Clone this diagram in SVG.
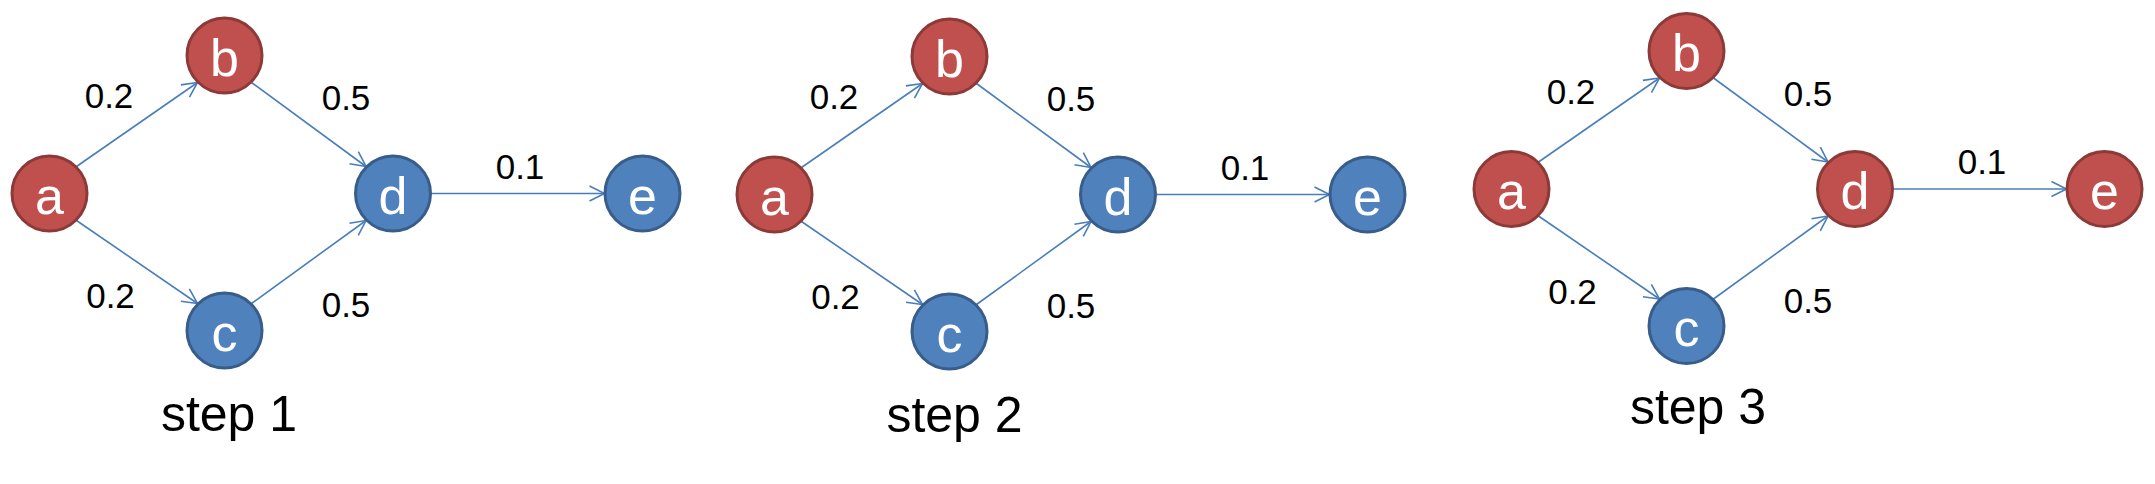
<svg xmlns="http://www.w3.org/2000/svg" width="2155" height="484" viewBox="0 0 2155 484">
<style>
  .red circle { fill: #C0504D; stroke: #8C3A38; stroke-width: 3; }
  .blue circle { fill: #4F81BD; stroke: #385D8A; stroke-width: 3; }
  .node text { font-family: "Liberation Sans", Arial, sans-serif; font-size: 52px; fill: #FFFFFF; text-anchor: middle; }
  .edge { stroke: #4A7EBB; stroke-width: 1.6; fill: none; marker-end: url(#arrow); }
  .lbl { font-family: "Liberation Sans", Arial, sans-serif; font-size: 35px; fill: #000000; text-anchor: middle; }
  .step { font-family: "Liberation Sans", Arial, sans-serif; font-size: 50px; fill: #000000; text-anchor: middle; }
</style>
<defs>
  <marker id="arrow" markerUnits="userSpaceOnUse" markerWidth="18" markerHeight="18" viewBox="0 0 18 18" refX="16" refY="9" orient="auto">
    <path d="M1,1.5 L16,9 L1,16.5" fill="none" stroke="#4A7EBB" stroke-width="1.6"/>
  </marker>
</defs>
<rect width="2155" height="484" fill="#FFFFFF"/>

<!-- Panel 1 -->
<g id="panel1">
  <g id="p1-connectors">
    <line class="edge" x1="76.5" y1="166.5" x2="197.5" y2="82.5"/>
    <line class="edge" x1="76.5" y1="220.5" x2="197.5" y2="303.5"/>
    <line class="edge" x1="251.5" y1="82.5" x2="366" y2="166.5"/>
    <line class="edge" x1="251.5" y1="303.5" x2="366" y2="220.5"/>
    <line class="edge" x1="431" y1="193.5" x2="604.5" y2="193.5"/>
  </g>
  <g id="p1-a" class="node red"><circle cx="49.5" cy="193.5" r="37.5"/><text x="49.5" y="213.5">a</text></g>
  <g id="p1-b" class="node red"><circle cx="224.5" cy="55.5" r="37.5"/><text x="224.5" y="75.5">b</text></g>
  <g id="p1-c" class="node blue"><circle cx="224.5" cy="330.5" r="37.5"/><text x="224.5" y="350.5">c</text></g>
  <g id="p1-d" class="node blue"><circle cx="393" cy="193.5" r="37.5"/><text x="393" y="213.5">d</text></g>
  <g id="p1-e" class="node blue"><circle cx="642.5" cy="193.5" r="37.5"/><text x="642.5" y="213.5">e</text></g>
  <g id="p1-labels">
    <text class="lbl" x="109" y="108">0.2</text>
    <text class="lbl" x="346" y="110">0.5</text>
    <text class="lbl" x="110.5" y="308">0.2</text>
    <text class="lbl" x="346" y="317">0.5</text>
    <text class="lbl" x="520" y="178.5">0.1</text>
    <text class="step" x="229" y="431">step 1</text>
  </g>
</g>

<!-- Panel 2 -->
<g id="panel2" transform="translate(725,1)">
  <g id="p2-connectors">
    <line class="edge" x1="76.5" y1="166.5" x2="197.5" y2="82.5"/>
    <line class="edge" x1="76.5" y1="220.5" x2="197.5" y2="303.5"/>
    <line class="edge" x1="251.5" y1="82.5" x2="366" y2="166.5"/>
    <line class="edge" x1="251.5" y1="303.5" x2="366" y2="220.5"/>
    <line class="edge" x1="431" y1="193.5" x2="604.5" y2="193.5"/>
  </g>
  <g id="p2-a" class="node red"><circle cx="49.5" cy="193.5" r="37.5"/><text x="49.5" y="213.5">a</text></g>
  <g id="p2-b" class="node red"><circle cx="224.5" cy="55.5" r="37.5"/><text x="224.5" y="75.5">b</text></g>
  <g id="p2-c" class="node blue"><circle cx="224.5" cy="330.5" r="37.5"/><text x="224.5" y="350.5">c</text></g>
  <g id="p2-d" class="node blue"><circle cx="393" cy="193.5" r="37.5"/><text x="393" y="213.5">d</text></g>
  <g id="p2-e" class="node blue"><circle cx="642.5" cy="193.5" r="37.5"/><text x="642.5" y="213.5">e</text></g>
  <g id="p2-labels">
    <text class="lbl" x="109" y="108">0.2</text>
    <text class="lbl" x="346" y="110">0.5</text>
    <text class="lbl" x="110.5" y="308">0.2</text>
    <text class="lbl" x="346" y="317">0.5</text>
    <text class="lbl" x="520" y="178.5">0.1</text>
    <text class="step" x="229.5" y="431">step 2</text>
  </g>
</g>

<!-- Panel 3 -->
<g id="panel3" transform="translate(1462,-4.5)">
  <g id="p3-connectors">
    <line class="edge" x1="76.5" y1="166.5" x2="197.5" y2="82.5"/>
    <line class="edge" x1="76.5" y1="220.5" x2="197.5" y2="303.5"/>
    <line class="edge" x1="251.5" y1="82.5" x2="366" y2="166.5"/>
    <line class="edge" x1="251.5" y1="303.5" x2="366" y2="220.5"/>
    <line class="edge" x1="431" y1="193.5" x2="604.5" y2="193.5"/>
  </g>
  <g id="p3-a" class="node red"><circle cx="49.5" cy="193.5" r="37.5"/><text x="49.5" y="213.5">a</text></g>
  <g id="p3-b" class="node red"><circle cx="224.5" cy="55.5" r="37.5"/><text x="224.5" y="75.5">b</text></g>
  <g id="p3-c" class="node blue"><circle cx="224.5" cy="330.5" r="37.5"/><text x="224.5" y="350.5">c</text></g>
  <g id="p3-d" class="node red"><circle cx="393" cy="193.5" r="37.5"/><text x="393" y="213.5">d</text></g>
  <g id="p3-e" class="node red"><circle cx="642.5" cy="193.5" r="37.5"/><text x="642.5" y="213.5">e</text></g>
  <g id="p3-labels">
    <text class="lbl" x="109" y="108">0.2</text>
    <text class="lbl" x="346" y="110">0.5</text>
    <text class="lbl" x="110.5" y="308">0.2</text>
    <text class="lbl" x="346" y="317">0.5</text>
    <text class="lbl" x="520" y="178.5">0.1</text>
    <text class="step" x="236" y="428.5">step 3</text>
  </g>
</g>
</svg>
